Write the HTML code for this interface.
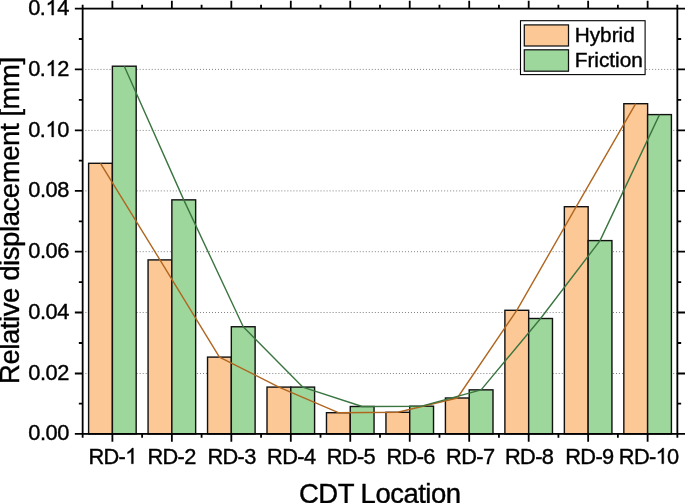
<!DOCTYPE html>
<html><head><meta charset="utf-8"><style>
html,body{margin:0;padding:0;background:#fff;}
svg{display:block;font-family:"Liberation Sans",sans-serif;}
.ov{position:absolute;left:0;top:0;will-change:transform;}
.ov text{fill:#000;stroke:#000;stroke-width:0.4px;}
.ov .h1{fill:none;stroke:none;}
.ov path{fill:#000;stroke:#000;}
</style></head><body>
<svg width="685" height="503" viewBox="0 0 685 503">
<line x1="85.4" y1="373.5" x2="677.35" y2="373.5" stroke="#808080" stroke-width="1" stroke-dasharray="1 2.0146"/>
<line x1="85.4" y1="312.5" x2="677.35" y2="312.5" stroke="#808080" stroke-width="1" stroke-dasharray="1 2.0146"/>
<line x1="85.4" y1="251.7" x2="677.35" y2="251.7" stroke="#808080" stroke-width="1" stroke-dasharray="1 2.0146"/>
<line x1="85.4" y1="190.9" x2="677.35" y2="190.9" stroke="#808080" stroke-width="1" stroke-dasharray="1 2.0146"/>
<line x1="85.4" y1="130.4" x2="677.35" y2="130.4" stroke="#808080" stroke-width="1" stroke-dasharray="1 2.0146"/>
<line x1="85.4" y1="69.4" x2="677.35" y2="69.4" stroke="#808080" stroke-width="1" stroke-dasharray="1 2.0146"/>
<rect x="88.60" y="163.30" width="23.79" height="270.60" fill="#FCC896" stroke="#111111" stroke-width="1.4"/>
<rect x="112.39" y="66.20" width="23.79" height="367.70" fill="#9ED79C" stroke="#111111" stroke-width="1.4"/>
<rect x="148.07" y="259.90" width="23.79" height="174.00" fill="#FCC896" stroke="#111111" stroke-width="1.4"/>
<rect x="171.86" y="199.85" width="23.79" height="234.05" fill="#9ED79C" stroke="#111111" stroke-width="1.4"/>
<rect x="207.54" y="357.10" width="23.79" height="76.80" fill="#FCC896" stroke="#111111" stroke-width="1.4"/>
<rect x="231.33" y="326.75" width="23.79" height="107.15" fill="#9ED79C" stroke="#111111" stroke-width="1.4"/>
<rect x="267.01" y="387.10" width="23.79" height="46.80" fill="#FCC896" stroke="#111111" stroke-width="1.4"/>
<rect x="290.80" y="387.10" width="23.79" height="46.80" fill="#9ED79C" stroke="#111111" stroke-width="1.4"/>
<rect x="326.48" y="412.70" width="23.79" height="21.20" fill="#FCC896" stroke="#111111" stroke-width="1.4"/>
<rect x="350.26" y="406.50" width="23.79" height="27.40" fill="#9ED79C" stroke="#111111" stroke-width="1.4"/>
<rect x="385.95" y="412.30" width="23.79" height="21.60" fill="#FCC896" stroke="#111111" stroke-width="1.4"/>
<rect x="409.74" y="406.20" width="23.79" height="27.70" fill="#9ED79C" stroke="#111111" stroke-width="1.4"/>
<rect x="445.42" y="398.00" width="23.79" height="35.90" fill="#FCC896" stroke="#111111" stroke-width="1.4"/>
<rect x="469.21" y="389.85" width="23.79" height="44.05" fill="#9ED79C" stroke="#111111" stroke-width="1.4"/>
<rect x="504.89" y="310.30" width="23.79" height="123.60" fill="#FCC896" stroke="#111111" stroke-width="1.4"/>
<rect x="528.68" y="318.50" width="23.79" height="115.40" fill="#9ED79C" stroke="#111111" stroke-width="1.4"/>
<rect x="564.36" y="206.70" width="23.79" height="227.20" fill="#FCC896" stroke="#111111" stroke-width="1.4"/>
<rect x="588.15" y="240.60" width="23.79" height="193.30" fill="#9ED79C" stroke="#111111" stroke-width="1.4"/>
<rect x="623.83" y="103.70" width="23.79" height="330.20" fill="#FCC896" stroke="#111111" stroke-width="1.4"/>
<rect x="647.62" y="114.60" width="23.79" height="319.30" fill="#9ED79C" stroke="#111111" stroke-width="1.4"/>
<polyline points="100.49,163.30 159.96,259.90 219.43,357.10 278.90,387.10 338.37,412.70 397.84,412.30 457.31,398.00 516.78,310.30 576.25,206.70 635.72,103.70" fill="none" stroke="#B0661F" stroke-width="1.4" stroke-linejoin="round"/>
<polyline points="124.28,66.20 183.75,199.85 243.22,326.75 302.69,387.10 362.16,406.50 421.63,406.20 481.10,389.85 540.57,318.50 600.04,240.60 659.51,114.60" fill="none" stroke="#3A7540" stroke-width="1.4" stroke-linejoin="round"/>
<rect x="82.65" y="8.6" width="594.70" height="425.30" fill="none" stroke="#000" stroke-width="1.8"/>
<path d="M74.85,433.90H82.65M677.35,433.90H685.15M78.85,403.70H82.65M677.35,403.70H681.15M74.85,373.50H82.65M677.35,373.50H685.15M78.85,343.00H82.65M677.35,343.00H681.15M74.85,312.50H82.65M677.35,312.50H685.15M78.85,282.10H82.65M677.35,282.10H681.15M74.85,251.70H82.65M677.35,251.70H685.15M78.85,221.30H82.65M677.35,221.30H681.15M74.85,190.90H82.65M677.35,190.90H685.15M78.85,160.65H82.65M677.35,160.65H681.15M74.85,130.40H82.65M677.35,130.40H685.15M78.85,99.90H82.65M677.35,99.90H681.15M74.85,69.40H82.65M677.35,69.40H685.15M78.85,39.00H82.65M677.35,39.00H681.15M74.85,8.60H82.65M677.35,8.60H685.15M112.39,433.9V441.70M112.39,8.6V0.80M171.86,433.9V441.70M171.86,8.6V0.80M231.33,433.9V441.70M231.33,8.6V0.80M290.80,433.9V441.70M290.80,8.6V0.80M350.26,433.9V441.70M350.26,8.6V0.80M409.74,433.9V441.70M409.74,8.6V0.80M469.21,433.9V441.70M469.21,8.6V0.80M528.68,433.9V441.70M528.68,8.6V0.80M588.15,433.9V441.70M588.15,8.6V0.80M647.62,433.9V441.70M647.62,8.6V0.80M82.65,433.9V437.70M82.65,8.6V4.80M142.12,433.9V437.70M142.12,8.6V4.80M201.59,433.9V437.70M201.59,8.6V4.80M261.06,433.9V437.70M261.06,8.6V4.80M320.53,433.9V437.70M320.53,8.6V4.80M380.00,433.9V437.70M380.00,8.6V4.80M439.47,433.9V437.70M439.47,8.6V4.80M498.94,433.9V437.70M498.94,8.6V4.80M558.41,433.9V437.70M558.41,8.6V4.80M617.88,433.9V437.70M617.88,8.6V4.80M677.35,433.9V437.70M677.35,8.6V4.80" stroke="#000" stroke-width="1.8" fill="none"/>
<rect x="520.5" y="20.7" width="124.6" height="53.9" fill="#fff" stroke="#000" stroke-width="1.1"/>
<rect x="524.3" y="24.9" width="44.2" height="21.1" fill="#FCC896" stroke="#111" stroke-width="1.25"/>
<rect x="524.3" y="49.8" width="44.2" height="21.4" fill="#9ED79C" stroke="#111" stroke-width="1.25"/>
</svg>
<svg class="ov" width="685" height="503" viewBox="0 0 685 503">
<text x="69.00" y="440.40" text-anchor="end" font-size="21.8" letter-spacing="-0.4">0.00</text>
<text x="69.00" y="380.00" text-anchor="end" font-size="21.8" letter-spacing="-0.4">0.02</text>
<text x="69.00" y="319.00" text-anchor="end" font-size="21.8" letter-spacing="-0.4">0.04</text>
<text x="69.00" y="258.20" text-anchor="end" font-size="21.8" letter-spacing="-0.4">0.06</text>
<text x="69.00" y="197.40" text-anchor="end" font-size="21.8" letter-spacing="-0.4">0.08</text>
<text x="69.00" y="136.90" text-anchor="end" font-size="21.8" letter-spacing="-0.4">0.<tspan class="h1">1</tspan>0</text>
<text x="69.00" y="75.90" text-anchor="end" font-size="21.8" letter-spacing="-0.4">0.<tspan class="h1">1</tspan>2</text>
<text x="69.00" y="15.10" text-anchor="end" font-size="21.8" letter-spacing="-0.4">0.<tspan class="h1">1</tspan>4</text>
<text x="88.41" y="463.7" font-size="21.8" letter-spacing="-0.65">RD-<tspan class="h1">1</tspan></text>
<text x="147.41" y="463.7" font-size="21.8" letter-spacing="-0.65">RD-2</text>
<text x="207.41" y="463.7" font-size="21.8" letter-spacing="-0.65">RD-3</text>
<text x="267.11" y="463.7" font-size="21.8" letter-spacing="-0.65">RD-4</text>
<text x="326.71" y="463.7" font-size="21.8" letter-spacing="-0.65">RD-5</text>
<text x="386.51" y="463.7" font-size="21.8" letter-spacing="-0.65">RD-6</text>
<text x="446.11" y="463.7" font-size="21.8" letter-spacing="-0.65">RD-7</text>
<text x="505.01" y="463.7" font-size="21.8" letter-spacing="-0.65">RD-8</text>
<text x="565.21" y="463.7" font-size="21.8" letter-spacing="-0.65">RD-9</text>
<text x="618.81" y="463.7" font-size="21.8" letter-spacing="-0.65">RD-<tspan class="h1">1</tspan>0</text>
<text x="379.75" y="502.6" text-anchor="middle" font-size="27.5" letter-spacing="-0.5">CDT Location</text>
<text transform="translate(19.1,220.4) rotate(-90)" x="-0.21" y="0" text-anchor="middle" font-size="27.5" letter-spacing="-0.42">Relative displacement [mm]</text>
<text x="574.7" y="41.8" font-size="20.8">Hybrid</text>
<text x="574.7" y="67.3" font-size="20.8">Friction</text>
<path transform="translate(45.53,136.90) scale(0.010645,-0.010645)" stroke-width="37.6" d="M763,0L583,0L583,1147Q518,1085 412.5,1023Q307,961 223,930L223,1104Q374,1175 487,1276Q600,1377 647,1472L763,1472Z"/>
<path transform="translate(45.53,75.90) scale(0.010645,-0.010645)" stroke-width="37.6" d="M763,0L583,0L583,1147Q518,1085 412.5,1023Q307,961 223,930L223,1104Q374,1175 487,1276Q600,1377 647,1472L763,1472Z"/>
<path transform="translate(45.53,15.10) scale(0.010645,-0.010645)" stroke-width="37.6" d="M763,0L583,0L583,1147Q518,1085 412.5,1023Q307,961 223,930L223,1104Q374,1175 487,1276Q600,1377 647,1472L763,1472Z"/>
<path transform="translate(125.21,463.70) scale(0.010645,-0.010645)" stroke-width="37.6" d="M763,0L583,0L583,1147Q518,1085 412.5,1023Q307,961 223,930L223,1104Q374,1175 487,1276Q600,1377 647,1472L763,1472Z"/>
<path transform="translate(655.61,463.70) scale(0.010645,-0.010645)" stroke-width="37.6" d="M763,0L583,0L583,1147Q518,1085 412.5,1023Q307,961 223,930L223,1104Q374,1175 487,1276Q600,1377 647,1472L763,1472Z"/>
</svg>
</body></html>
